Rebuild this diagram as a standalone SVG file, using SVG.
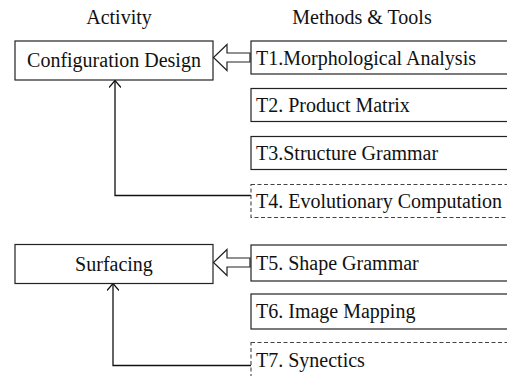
<svg xmlns="http://www.w3.org/2000/svg" width="507" height="376" viewBox="0 0 507 376">
  <style>
    text { font-family: "Liberation Serif", "Times New Roman", serif; font-size: 20px; fill: #111; }
    .box { fill: #fff; stroke: #222; stroke-width: 1.2; }
    .dash { fill: #fff; stroke: #444; stroke-width: 1.1; stroke-dasharray: 4 2.5; }
    .line { fill: none; stroke: #111; stroke-width: 1.3; }
    .hollow { fill: #fff; stroke: #222; stroke-width: 1.2; stroke-linejoin: miter; }
    .mid { text-anchor: middle; }
  </style>
  <defs>
    <marker id="open" markerWidth="16" markerHeight="12" refX="14" refY="6" orient="auto" markerUnits="userSpaceOnUse">
      <path d="M7,0 L14,6 L7,12" fill="none" stroke="#111" stroke-width="1.2"/>
    </marker>
  </defs>

  <text class="mid" x="119" y="24">Activity</text>
  <text class="mid" x="362" y="24">Methods &amp; Tools</text>

  <g id="connectors">
    <!-- hollow block arrows into activities -->
    <path class="hollow" d="M250,53 L227,53 L227,44.5 L213.5,57.5 L227,70.5 L227,62 L250,62 Z"/>
    <path class="hollow" d="M250,258 L227,258 L227,249.5 L213.5,262.5 L227,275.5 L227,267 L250,267 Z"/>
    <!-- elbow connectors from dashed tools -->
    <path class="line" d="M251,195.5 L115,195.5 L115,80.5" marker-end="url(#open)"/>
    <path class="line" d="M251,365.5 L113,365.5 L113,283.5" marker-end="url(#open)"/>
  </g>

  <g id="configuration-design">
    <rect class="box" x="15" y="41" width="198" height="39"/>
    <text class="mid" x="114" y="67">Configuration Design</text>
  </g>
  <g id="surfacing">
    <rect class="box" x="15" y="244.5" width="198" height="39"/>
    <text class="mid" x="114" y="270.5">Surfacing</text>
  </g>

  <g id="t1">
    <rect class="box" x="251" y="41" width="270" height="33"/>
    <text x="256" y="64.5">T1.Morphological Analysis</text>
  </g>
  <g id="t2">
    <rect class="box" x="251" y="88.5" width="270" height="33"/>
    <text x="256" y="112">T2. Product Matrix</text>
  </g>
  <g id="t3">
    <rect class="box" x="251" y="136.5" width="270" height="33"/>
    <text x="256" y="160">T3.Structure Grammar</text>
  </g>
  <g id="t4">
    <rect class="dash" x="251" y="184.5" width="270" height="33"/>
    <text x="256" y="208">T4. Evolutionary Computation</text>
  </g>
  <g id="t5">
    <rect class="box" x="251" y="245" width="270" height="36"/>
    <text x="256" y="270">T5. Shape Grammar</text>
  </g>
  <g id="t6">
    <rect class="box" x="251" y="294" width="270" height="35"/>
    <text x="256" y="318">T6. Image Mapping</text>
  </g>
  <g id="t7">
    <rect class="dash" x="251" y="342.5" width="270" height="50"/>
    <text x="256" y="366.5">T7. Synectics</text>
  </g>
</svg>
